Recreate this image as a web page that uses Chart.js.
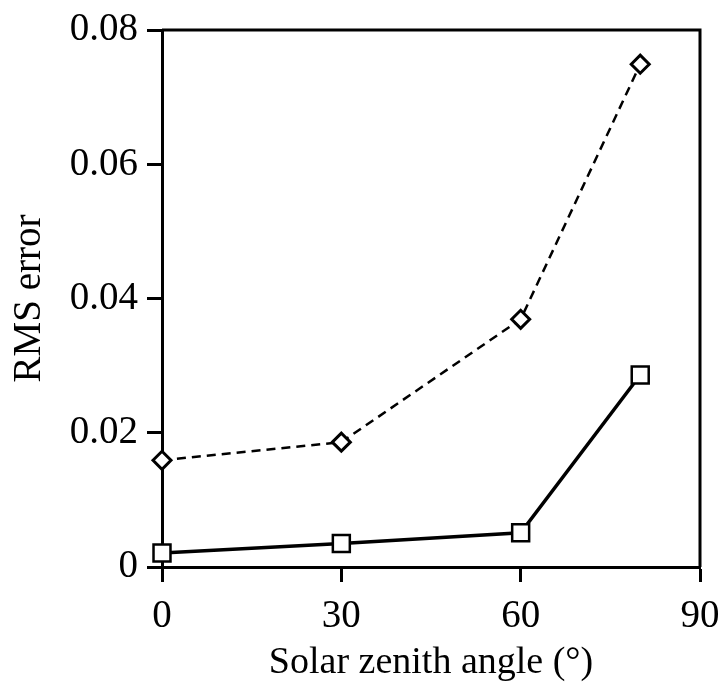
<!DOCTYPE html>
<html>
<head>
<meta charset="utf-8">
<script src="https://cdn.jsdelivr.net/npm/chart.js@4/dist/chart.umd.min.js"></script>
<style>
  html, body { margin: 0; padding: 0; background: #fff; }
  #wrap { width: 720px; height: 690px; }
</style>
</head>
<body>
<div id="wrap"><canvas id="rmsChart" width="720" height="690"></canvas></div>
<script>
// zenith angles (deg)
const angles = [0, 30, 60, 80];
// RMS error, solid line with squares
const squareSeries = [0.0021, 0.0035, 0.0051, 0.0286];
// RMS error, dashed line with diamonds
const diamondSeries = [0.0159, 0.0186, 0.0369, 0.0749];
const xTicks = [0, 30, 60, 90];
const yTicks = [0, 0.02, 0.04, 0.06, 0.08];

const serif = "'Liberation Serif', 'DejaVu Serif', serif";

// draws the top and right edges of the frame
const frameBox = {
    id: 'frameBox',
    afterDraw(chart) {
        const { ctx, chartArea: a } = chart;
        ctx.save();
        ctx.strokeStyle = '#000';
        ctx.lineWidth = 3;
        ctx.beginPath();
        ctx.moveTo(a.left, a.top);
        ctx.lineTo(a.right, a.top);
        ctx.lineTo(a.right, a.bottom);
        ctx.stroke();
        ctx.restore();
    }
};

const toPoints = (ys) => ys.map((y, i) => ({ x: angles[i], y: y }));

new Chart(document.getElementById('rmsChart').getContext('2d'), {
    type: 'line',
    data: {
        datasets: [
            {
                data: toPoints(diamondSeries),
                borderColor: '#000',
                borderWidth: 2.5,
                borderDash: [9, 6],
                pointStyle: 'rectRot',
                pointRadius: 9,
                pointBorderWidth: 3,
                pointBackgroundColor: '#fff',
                pointBorderColor: '#000',
                fill: false,
                clip: false,
                tension: 0
            },
            {
                data: toPoints(squareSeries),
                borderColor: '#000',
                borderWidth: 3.5,
                pointStyle: 'rect',
                pointRadius: 12,
                pointBorderWidth: 2.5,
                pointBackgroundColor: '#fff',
                pointBorderColor: '#000',
                fill: false,
                clip: false,
                tension: 0
            }
        ]
    },
    options: {
        responsive: false,
        animation: false,
        layout: { padding: { top: 30, right: 20, left: 0, bottom: 0 } },
        plugins: {
            legend: { display: false },
            tooltip: { enabled: false }
        },
        scales: {
            x: {
                type: 'linear',
                min: 0,
                max: 90,
                afterBuildTicks: (scale) => { scale.ticks = xTicks.map(v => ({ value: v })); },
                afterFit: (scale) => {
                    scale.height = 123;
                    scale.paddingLeft = 0;
                    scale.paddingRight = 0;
                },
                border: { display: true, color: '#000', width: 3 },
                grid: {
                    drawOnChartArea: false,
                    drawTicks: true,
                    tickLength: 15,
                    tickWidth: 3,
                    tickColor: '#000'
                },
                ticks: {
                    color: '#000',
                    padding: 11,
                    font: { family: serif, size: 39 }
                },
                title: {
                    display: true,
                    text: 'Solar zenith angle (°)',
                    color: '#000',
                    padding: { top: 10 },
                    font: { family: serif, size: 38 }
                }
            },
            y: {
                type: 'linear',
                min: 0,
                max: 0.08,
                afterBuildTicks: (scale) => { scale.ticks = yTicks.map(v => ({ value: v })); },
                afterFit: (scale) => {
                    scale.width = 162;
                    scale.paddingTop = 0;
                    scale.paddingBottom = 0;
                },
                border: { display: true, color: '#000', width: 3 },
                grid: {
                    drawOnChartArea: false,
                    drawTicks: true,
                    tickLength: 15,
                    tickWidth: 3,
                    tickColor: '#000'
                },
                ticks: {
                    color: '#000',
                    padding: 9,
                    font: { family: serif, size: 39 },
                    callback: (v) => v === 0 ? '0' : v.toFixed(2)
                },
                title: {
                    display: true,
                    text: 'RMS error',
                    color: '#000',
                    padding: { top: 6, bottom: 4 },
                    font: { family: serif, size: 39 }
                }
            }
        }
    },
    plugins: [frameBox]
});
</script>
</body>
</html>
